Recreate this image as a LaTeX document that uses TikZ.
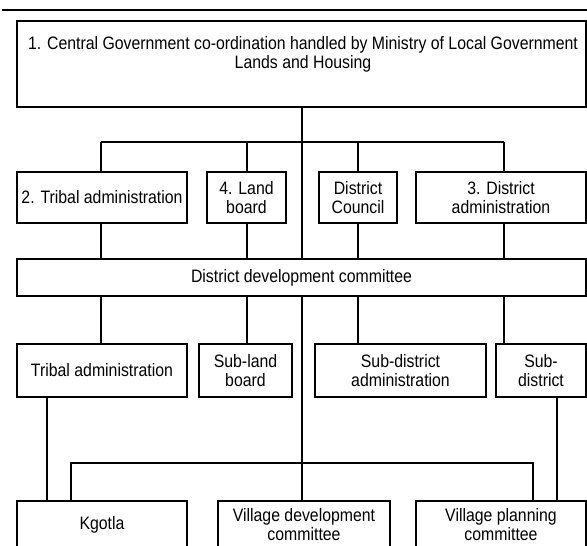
\documentclass[tikz,border=0pt]{standalone}
\usepackage{fontspec}
\setmainfont{Liberation Sans}[FakeStretch=0.88]
\begin{document}
\begin{tikzpicture}[x=1pt,y=-1pt,
  box/.style={draw=black, line width=1.3pt, fill=white, rectangle, inner sep=0pt, outer sep=0pt, align=center,
    font=\fontsize{18}{19}\selectfont},
  link/.style={draw=black, line width=1.3pt}]
\useasboundingbox (0,0) rectangle (587,546);
\clip (0,0) rectangle (587,546);
\fill[white] (0,0) rectangle (587,546);
% top rule
\coordinate (ruleL) at (2,10);
\coordinate (ruleR) at (590,10);
\draw[line width=2pt] (ruleL) -- (ruleR);

% level 0
\node[box, minimum width=569pt, minimum height=86pt] (box1) at (301.5,64) {};
\node[font=\fontsize{18}{19}\selectfont, align=center, inner sep=0pt] (box1text) at (303,54)
  {1. Central Government co-ordination handled by Ministry of Local Government\\Lands and Housing};

% level 1
\node[box, minimum width=170pt, minimum height=51pt] (t2) at (102,197.5) {2. Tribal administration};
\node[box, minimum width=79pt, minimum height=51pt] (lb) at (246.5,197.5) {4. Land\\board};
\node[box, minimum width=78pt, minimum height=51pt] (dc) at (358,197.5) {District\\Council};
\node[box, minimum width=170pt, minimum height=51pt] (da) at (501,197.5) {3. District\\administration};

% district development committee
\node[box, minimum width=569pt, minimum height=37pt] (ddc) at (301.5,277.5) {District development committee};

% level 2
\node[box, minimum width=170pt, minimum height=53pt] (ta) at (102,370.5) {Tribal administration};
\node[box, minimum width=93pt, minimum height=53pt] (slb) at (245.5,370.5) {Sub-land\\board};
\node[box, minimum width=171pt, minimum height=53pt] (sda) at (400.5,370.5) {Sub-district\\administration};
\node[box, minimum width=90pt, minimum height=53pt] (sd) at (541,370.5) {Sub-\\district};

% level 3
\node[box, minimum width=170pt, minimum height=47pt] (kg) at (102,524.5) {Kgotla};
\node[box, minimum width=172pt, minimum height=47pt] (vdc) at (304,524.5) {Village development\\committee};
\node[box, minimum width=170pt, minimum height=47pt] (vpc) at (501,524.5) {Village planning\\committee};

% bus coordinates
\coordinate (c1) at (101,142);
\coordinate (c2) at (247,142);
\coordinate (c3) at (358,142);
\coordinate (c4) at (504,142);
\coordinate (m) at (302,142);
\coordinate (k1) at (47,463);
\coordinate (b1) at (71,463);
\coordinate (b2) at (533,463);
\coordinate (k2) at (557,463);

% central spine
\draw[link] (m |- box1.south) -- (m |- ddc.north);
\draw[link] (m |- ddc.south) -- (m |- vdc.north);
% level-1 bus
\draw[link] (c1) -- (c4);
\draw[link] (c1) -- (c1 |- t2.north);
\draw[link] (c2) -- (c2 |- lb.north);
\draw[link] (c3) -- (c3 |- dc.north);
\draw[link] (c4) -- (c4 |- da.north);
% level-1 to ddc
\draw[link] (c1 |- t2.south) -- (c1 |- ddc.north);
\draw[link] (c2 |- lb.south) -- (c2 |- ddc.north);
\draw[link] (c3 |- dc.south) -- (c3 |- ddc.north);
\draw[link] (c4 |- da.south) -- (c4 |- ddc.north);
% ddc to level-2
\draw[link] (c1 |- ddc.south) -- (c1 |- ta.north);
\draw[link] (c2 |- ddc.south) -- (c2 |- slb.north);
\draw[link] (c3 |- ddc.south) -- (c3 |- sda.north);
\draw[link] (c4 |- ddc.south) -- (c4 |- sd.north);
% level-2 to level-3
\draw[link] (k1 |- ta.south) -- (k1 |- kg.north);
\draw[link] (k2 |- sd.south) -- (k2 |- vpc.north);
% lower bus
\draw[link] (b1 |- kg.north) -- (b1) -- (b2) -- (b2 |- vpc.north);
\end{tikzpicture}
\end{document}
